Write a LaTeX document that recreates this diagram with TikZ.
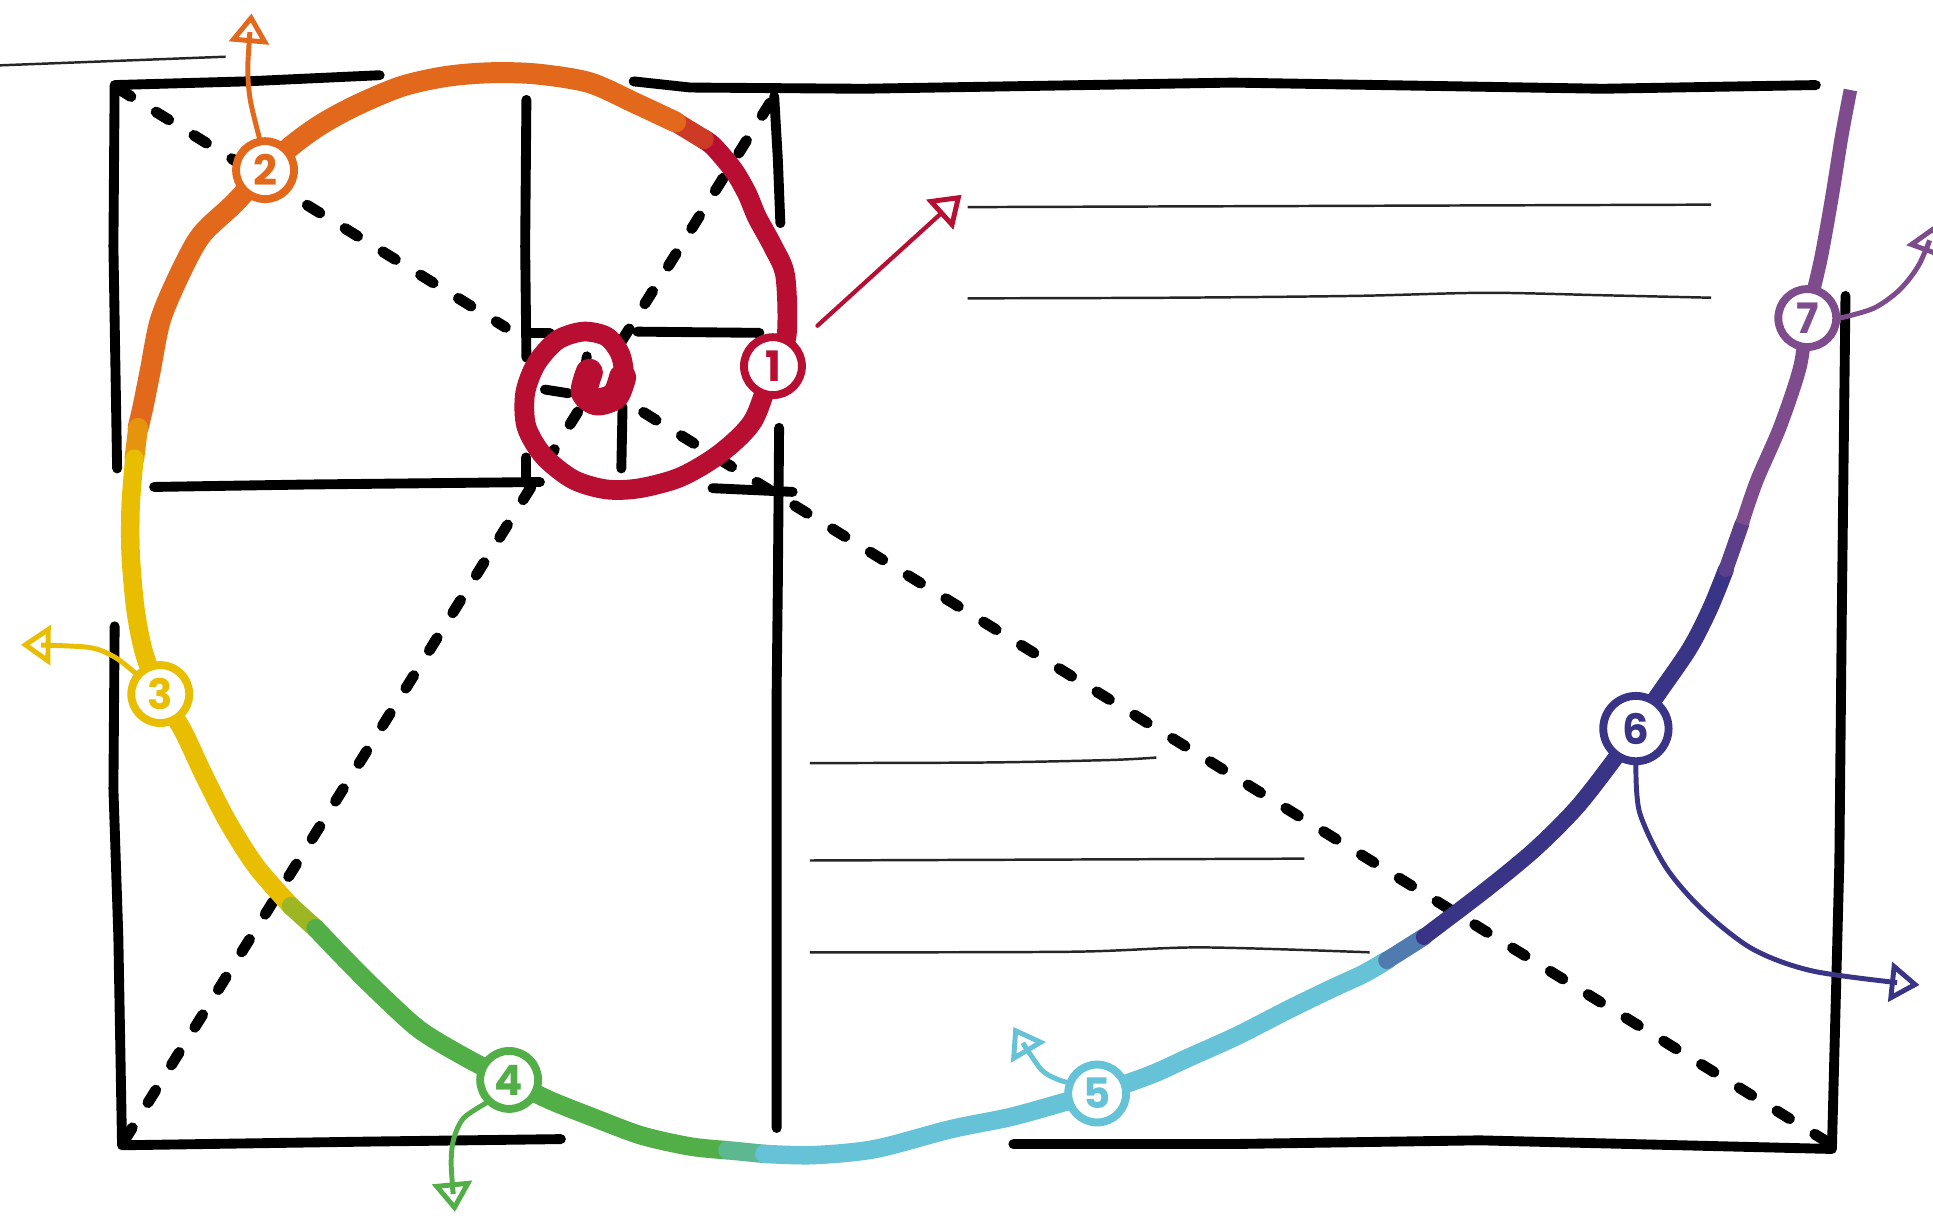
\documentclass[tikz,border=0pt]{standalone}
\usepackage{fontspec}
\setmainfont{Poppins}
\usetikzlibrary{arrows.meta}
\definecolor{sred}{RGB}{184,14,50}
\definecolor{sorange}{RGB}{226,104,28}
\definecolor{syellow}{RGB}{234,190,0}
\definecolor{sgreen}{RGB}{82,174,71}
\definecolor{scyan}{RGB}{102,194,214}
\definecolor{sindigo}{RGB}{58,52,135}
\definecolor{spurple}{RGB}{126,75,141}
\tikzset{
  frame/.style={line width=4pt, line cap=round, line join=round, draw=black},
  guide/.style={line width=4.4pt, line cap=round, dash pattern=on 6pt off 12pt, draw=black},
  textline/.style={line width=1pt, draw=black!85},
  swirl/.style={line width=#1, line cap=round, line join=round},
  badge/.style={circle, draw=#1, text=#1, fill=white, line width=3.2pt, minimum size=23.5pt, inner sep=0pt, font=\bfseries\fontsize{17}{17}\selectfont},
  callout/.style={draw=#1, line width=2pt, line cap=round, -{Triangle[open, length=12pt, width=16pt, line width=2pt]}},
}
\begin{document}
\begin{tikzpicture}[x=0.5pt,y=-0.5pt]
\fill[white] (0,0) rectangle (1568,986);
\useasboundingbox (0,0) rectangle (1568,986);

% badge positions
\coordinate (p1) at (627,297);
\coordinate (p2) at (215,138);
\coordinate (p3) at (130,563);
\coordinate (p4) at (413,876);
\coordinate (p5) at (890,887);
\coordinate (p6) at (1327,591);
\coordinate (p7) at (1466,258);

% thin text lines
\draw[textline] (0,53) -- (183,46);
\draw[textline] (785,168) -- (1388,166);
\draw[textline] plot[smooth] coordinates {(785,242) (950,241.5) (1100,240) (1205,237.5) (1300,239.5) (1388,241.5)};
\draw[textline] plot[smooth] coordinates {(657,619) (800,618.5) (900,616.5) (938,614.5)};
\draw[textline] (657,698) -- (1058,696.5);
\draw[textline] plot[smooth] coordinates {(657,772.5) (870,772) (974,768.5) (1111,772.5)};

% frame lines
\draw[frame] (95,380) -- (92,200) -- (93,69) -- (200,66) -- (308,61);
\draw[frame] (514,66) -- (560,71) -- (700,72) -- (1000,67) -- (1300,72) -- (1473,69);
\draw[frame] (93,508) -- (92,640) -- (96,760) -- (99,929) -- (300,926) -- (455,924);
\draw[frame] (822,928) -- (1000,928) -- (1200,925) -- (1486,932) -- (1492,700) -- (1494,500) -- (1497,240);
\draw[frame] (628,78) -- (631,130) -- (633,181);
\draw[frame] (632,347) -- (631,470) -- (630,560) -- (630,915);
\draw[frame] (427,81) -- (426,200) -- (427,290);
\draw[frame] (427,270) -- (446,270);
\draw[frame] (125,395) -- (250,393) -- (438,391);
\draw[frame] (427,371) -- (427,392);
\draw[frame] (517,269) -- (616,270);
\draw[frame] (505,330) -- (504,380);
\draw[frame] (578,396) -- (643,399);
\draw[frame] (442,316) -- (461,319);
\draw[frame] (476,289) -- (475,296);

% dashed diagonals
\draw[guide] (96,72) -- (410,265.5);
\draw[guide] (522,334.5) -- (1485,928);
\draw[guide] (101,925) -- (470,332);
\draw[guide] (504,277) -- (628,78);

% spiral
\draw[swirl=8pt, draw=sred] plot[smooth] coordinates {(478,300) (473,318) (484,327) (500,322) (506,305) (503,287) (492,273) (473,269) (452,276) (435,295) (426,319) (427,346) (441,370) (465,389) (492,397) (519,396) (552,387) (584,368) (611,341) (p1) (638,273) (637,224) (627,200) (614,176) (606,157) (595,138) (579,119) (571,113)};
\draw[swirl=11pt, draw=sred] plot[smooth] coordinates {(478,302) (474,318) (484,326) (499,321) (505,306)};
\draw[swirl=8pt, draw=sred!50!sorange] (571,113) -- (548,99);
\draw[swirl=8.5pt, draw=sorange] plot[smooth] coordinates {(548,99) (516,84) (478,67) (435,60) (398,59) (362,62) (326,70) (290,85) (262,100) (238,117) (p2) (190,165) (163,191) (145,224) (130,260) (122,300) (116,330) (112,347)};
\draw[swirl=8pt, draw=sorange!50!syellow] (112,347) -- (109,372);
\draw[swirl=7.5pt, draw=syellow] plot[smooth] coordinates {(109,372) (106,410) (106,450) (110,495) (117,530) (p3) (148,592) (165,628) (185,667) (208,703) (236,735)};
\draw[swirl=7.5pt, draw=syellow!50!sgreen] (236,735) -- (256,753);
\draw[swirl=7.5pt, draw=sgreen] plot[smooth] coordinates {(256,753) (280,778) (305,803) (340,835) (378,858) (p4) (445,892) (480,906) (520,921) (560,930) (590,933)};
\draw[swirl=7.5pt, draw=sgreen!50!scyan] (590,933) -- (620,936);
\draw[swirl=7.5pt, draw=scyan] plot[smooth] coordinates {(620,936) (660,937) (710,932) (771,916) (820,906) (867,893) (p5) (933,872) (964,858) (1004,840) (1045,819) (1080,802) (1106,790) (1125,779)};
\draw[swirl=7pt, draw=scyan!50!sindigo] (1125,779) -- (1155,760);
\draw[swirl=6.5pt, draw=sindigo] plot[smooth] coordinates {(1155,760) (1205,722) (1245,689) (1279,655) (1308,618) (p6) (1341,569) (1370,527) (1387,494) (1400,462)};
\draw[swirl=6pt, draw=sindigo!50!spurple] (1400,462) -- (1413,425);
\draw[swirl=5.5pt, draw=spurple, line cap=butt] plot[smooth] coordinates {(1413,425) (1425,390) (1444,346) (1460,298) (p7) (1477,210) (1486,160) (1494,110) (1501,73)};

% badges
\node[badge=sred] (c1) at (p1) {1};
\node[badge=sorange] (c2) at (p2) {2};
\node[badge=syellow] (c3) at (p3) {3};
\node[badge=sgreen] (c4) at (p4) {4};
\node[badge=scyan] (c5) at (p5) {5};
\node[badge=sindigo, minimum size=26.5pt] (c6) at (p6) {6};
\node[badge=spurple] (c7) at (p7) {7};

% callout ends
\coordinate (a1) at (780,158);
\coordinate (a2) at (204,11);
\coordinate (a3) at (17,523);
\coordinate (a4) at (369,983);
\coordinate (a5) at (822,833);
\coordinate (a6) at (1557,799);
\coordinate (a7) at (1570,182);

% callouts
\draw[callout=sred, line width=1.7pt, shorten <=11pt] (c1) -- (a1);
\draw[callout=sorange] plot[smooth] coordinates {(c2.100) (203,81) (201,54) (a2)};
\draw[callout=syellow] plot[smooth] coordinates {(c3.140) (93,533) (71,525) (a3)};
\draw[callout=sgreen] plot[smooth] coordinates {(c4.225) (376,907) (368,924) (366,945) (a4)};
\draw[callout=scyan] plot[smooth] coordinates {(c5.160) (845,868) (a5)};
\draw[callout=sindigo] plot[smooth] coordinates {(c6.south) (1330,659) (1351,703) (1381,738) (1422,770) (1472,788) (a6)};
\draw[callout=spurple] plot[smooth] coordinates {(c7.east) (1520,250) (1541,235) (1557,214) (a7)};
\end{tikzpicture}
\end{document}
